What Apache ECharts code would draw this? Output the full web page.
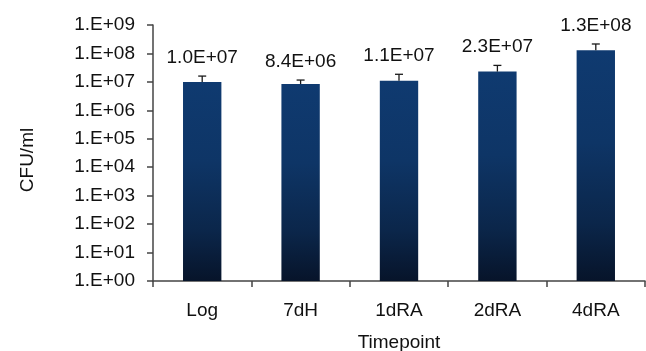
<!DOCTYPE html>
<html>
<head>
<meta charset="utf-8">
<script src="https://cdn.jsdelivr.net/npm/echarts@6/dist/echarts.min.js"></script>
<style>
html,body{margin:0;padding:0;background:#fff;}
#chart{width:646px;height:351px;}
</style>
</head>
<body>
<div id="chart"></div>
<script>
const categories = ['Log', '7dH', '1dRA', '2dRA', '4dRA'];
const cfuValues = [1.0e7, 8.4e6, 1.1e7, 2.3e7, 1.3e8];
const errorUpper = [1.6e7, 1.16e7, 1.85e7, 3.8e7, 2.15e8];
const valueLabels = ['1.0E+07', '8.4E+06', '1.1E+07', '2.3E+07', '1.3E+08'];
const yTickMin = 1, yTickMax = 1e9;

const FONT = 'Liberation Sans, Arial, sans-serif';
const chart = echarts.init(document.getElementById('chart'), null, {renderer: 'canvas'});

function expLabel(v) {
  const e = Math.round(Math.log10(v));
  return '1.E+' + (e < 10 ? '0' + e : e);
}

const option = {
  animation: false,
  backgroundColor: '#ffffff',
  grid: {left: 153, right: 1, top: 25, bottom: 70, containLabel: false, outerBoundsMode: 'none'},
  xAxis: {
    type: 'category',
    data: categories,
    name: 'Timepoint',
    nameLocation: 'middle',
    nameGap: 52,
    nameTextStyle: {fontFamily: FONT, fontSize: 19, color: '#111'},
    axisLine: {lineStyle: {color: '#444', width: 1.5}},
    axisTick: {show: true, length: 6, inside: false, alignWithLabel: false, lineStyle: {color: '#444', width: 1.5}},
    axisLabel: {fontFamily: FONT, fontSize: 19, color: '#111', margin: 20},
    splitLine: {show: false}
  },
  yAxis: {
    type: 'log',
    logBase: 10,
    min: yTickMin,
    max: yTickMax,
    name: 'CFU/ml',
    nameLocation: 'middle',
    nameRotate: 90,
    nameGap: 116,
    nameTextStyle: {fontFamily: FONT, fontSize: 19, color: '#111', padding: [0, 14, 0, 0]},
    axisLine: {show: true, lineStyle: {color: '#444', width: 1.5}},
    axisTick: {show: true, length: 6, inside: false, lineStyle: {color: '#444', width: 1.5}},
    axisLabel: {fontFamily: FONT, fontSize: 19, color: '#111', margin: 18, formatter: expLabel},
    splitLine: {show: false}
  },
  series: [
    {
      type: 'bar',
      data: cfuValues,
      barWidth: '39%',
      itemStyle: {
        color: new echarts.graphic.LinearGradient(0, 0, 0, 1, [
          {offset: 0, color: '#0f3a70'},
          {offset: 0.4, color: '#0e3566'},
          {offset: 0.75, color: '#0b264a'},
          {offset: 1, color: '#07142a'}
        ])
      },
      z: 2
    },
    {
      type: 'custom',
      data: cfuValues.map((v, i) => [i, v, errorUpper[i]]),
      renderItem: function (params, api) {
        const base = api.coord([api.value(0), api.value(1)]);
        const top = api.coord([api.value(0), api.value(2)]);
        const x = base[0];
        const style = {stroke: '#1a1a1a', lineWidth: 1.3};
        return {
          type: 'group',
          children: [
            {type: 'line', shape: {x1: x, y1: base[1], x2: x, y2: top[1]}, style: style},
            {type: 'line', shape: {x1: x - 4, y1: top[1], x2: x + 4, y2: top[1]}, style: style},
            {type: 'text', style: {
              text: valueLabels[params.dataIndex],
              x: x, y: top[1] - 9,
              textAlign: 'center', textVerticalAlign: 'bottom',
              font: '19px ' + FONT, fill: '#111'
            }}
          ]
        };
      },
      z: 3
    }
  ]
};
chart.setOption(option);
</script>
</body>
</html>
